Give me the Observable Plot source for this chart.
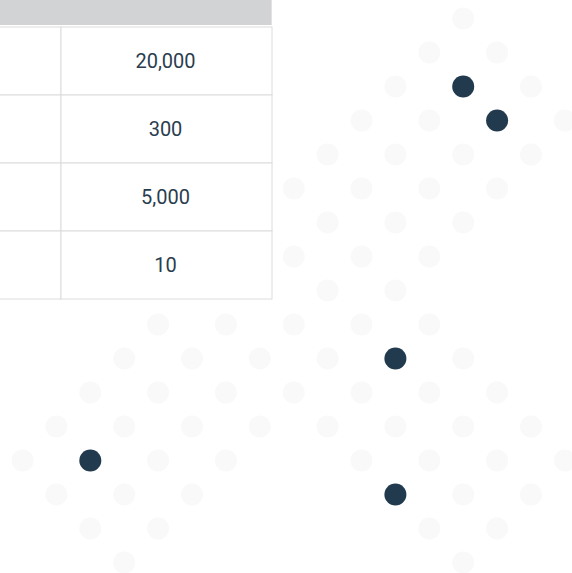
<!DOCTYPE html>
<html>
<head>
<meta charset="utf-8">
<script src="https://cdn.jsdelivr.net/npm/d3@7"></script>
<script src="https://cdn.jsdelivr.net/npm/@observablehq/plot@0.6"></script>
<style>
  html, body { margin: 0; padding: 0; background: #fff; }
  #wrap { position: relative; width: 572px; height: 573px; overflow: hidden; font-family: Roboto, sans-serif; }
  #dots, #table { position: absolute; left: 0; }
  #dots { top: 0; }
  #table { top: 25px; }
  #header { position: absolute; left: 0; top: 0; width: 271px; height: 25px; background: #d2d3d5; border-right: 1px solid #e2e2e2; }
  svg { overflow: hidden; }
</style>
</head>
<body>
<div id="wrap">
  <div id="dots"></div>
  <div id="header"></div>
  <div id="table"></div>
</div>
<script>
// Table values (right column of the partly visible table)
const tableRows = ["r1", "r2", "r3", "r4"];
const tableValues = [20000, 300, 5000, 10];
const tableColumns = ["label", "value"];

// Decorative dot grid: for each grid row, the columns holding a light dot
const lightDotCols = [
  [13],
  [12, 14],
  [11, 15],
  [10, 12, 16],
  [9, 11, 13, 15],
  [8, 10, 12, 14],
  [9, 11, 13],
  [8, 10, 12],
  [9, 11],
  [4, 6, 8, 10, 12],
  [3, 5, 7, 9, 13],
  [2, 4, 6, 8, 10, 12, 14],
  [1, 3, 5, 7, 9, 11, 13, 15],
  [0, 4, 6, 10, 12, 14, 16],
  [1, 3, 5, 13, 15],
  [2, 4, 12, 14],
  [3, 13]
];
// Highlighted (dark) dots
const darkDotCols = [13, 14, 11, 2, 11];
const darkDotRows = [2, 3, 10, 13, 14];

const lightDots = lightDotCols.flatMap((cols, row) => cols.map(col => ({col, row})));
const darkDots = darkDotCols.map((col, i) => ({col, row: darkDotRows[i]}));

const dotPlot = Plot.plot({
  width: 572,
  height: 573,
  marginLeft: 22,
  marginRight: 7.6,
  marginTop: 18,
  marginBottom: 11,
  x: {domain: [0, 16], axis: null},
  y: {domain: [0, 16], reverse: true, axis: null},
  marks: [
    Plot.dot(lightDots, {x: "col", y: "row", r: 11, fill: "#f9f9f9", stroke: "none"}),
    Plot.dot(darkDots, {x: "col", y: "row", r: 11, fill: "#223a4d", stroke: "none"})
  ]
});
document.getElementById("dots").appendChild(dotPlot);

const cells = tableRows.flatMap((row, i) => tableColumns.map(col => ({row, col, value: tableValues[i]})));
const valueCells = cells.filter(d => d.col === "value");

const tablePlot = Plot.plot({
  width: 273,
  height: 276,
  marginTop: 0,
  marginBottom: 1,
  marginLeft: 0,
  marginRight: 0,
  x: {type: "band", domain: tableColumns, range: [-151, 272], padding: 0, axis: null},
  y: {type: "band", domain: tableRows, padding: 0, axis: null},
  style: {fontFamily: "Roboto, sans-serif", background: "transparent"},
  marks: [
    Plot.cell(cells, {x: "col", y: "row", fill: "#ffffff", stroke: "#dcdcdc", strokeWidth: 1}),
    Plot.text(valueCells, {
      x: "col", y: "row",
      text: d => d3.format(",")(d.value),
      fontSize: 20,
      dx: -1.5,
      fill: "#2a3d4f",
      fontWeight: 400
    })
  ]
});
document.getElementById("table").appendChild(tablePlot);
</script>
</body>
</html>
